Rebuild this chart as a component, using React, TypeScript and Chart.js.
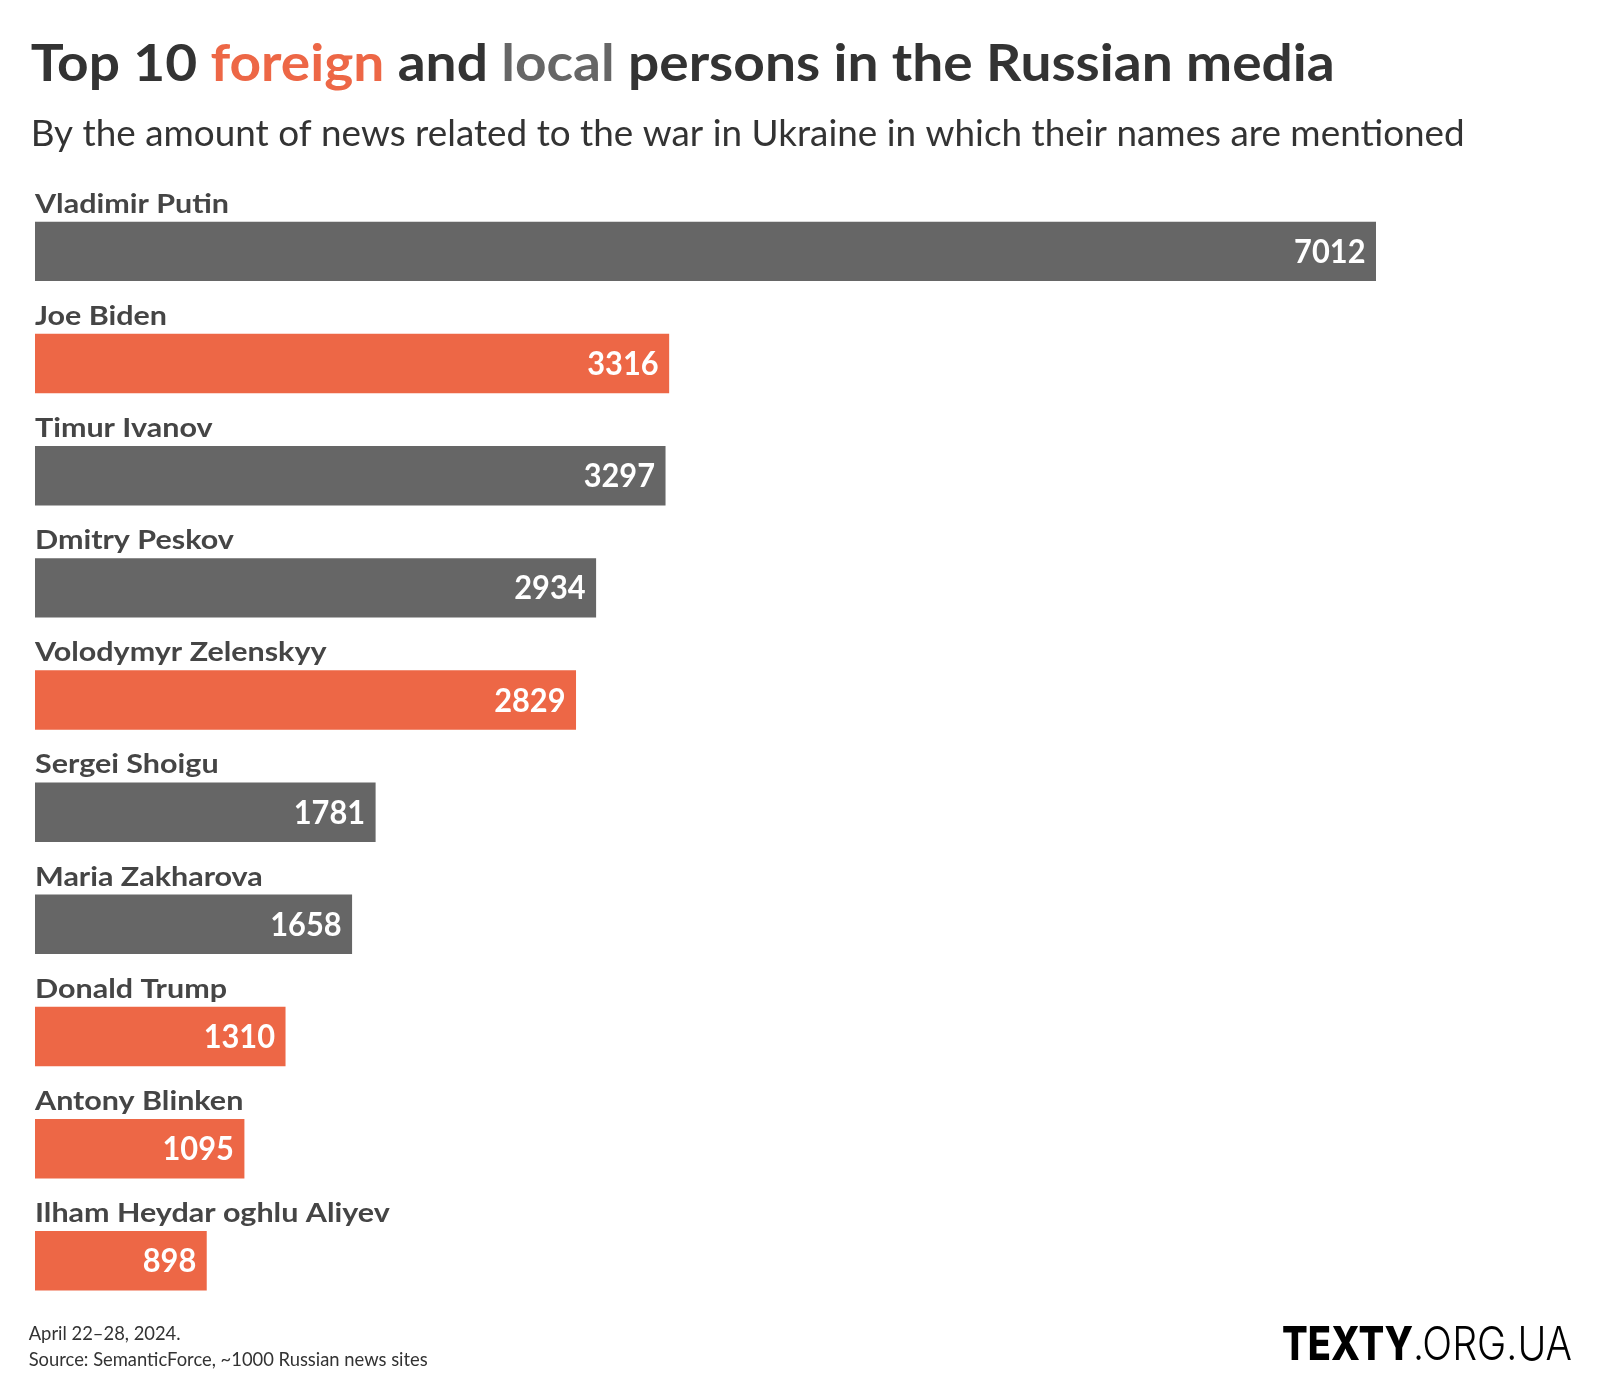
import React, { useEffect, useRef } from "react";
import { Chart, registerables } from "chart.js";

Chart.register(...registerables);

const names = [
  "Vladimir Putin",
  "Joe Biden",
  "Timur Ivanov",
  "Dmitry Peskov",
  "Volodymyr Zelenskyy",
  "Sergei Shoigu",
  "Maria Zakharova",
  "Donald Trump",
  "Antony Blinken",
  "Ilham Heydar oghlu Aliyev",
];
const values = [7012, 3316, 3297, 2934, 2829, 1781, 1658, 1310, 1095, 898];
const groups = ["local", "foreign", "local", "local", "foreign", "local", "local", "foreign", "foreign", "foreign"];

const titleParts: [string, string][] = [
  ["Top 10 ", "dark"],
  ["foreign", "foreign"],
  [" and ", "dark"],
  ["local", "local"],
  [" persons in the Russian media", "dark"],
];
const subtitle = "By the amount of news related to the war in Ukraine in which their names are mentioned";
const footerLines = ["April 22\u201328, 2024.", "Source: SemanticForce, ~1000 Russian news sites"];
const logoBold = "TEXTY";
const logoLight = ".ORG.UA";

const COLORS: Record<string, string> = {
  foreign: "#ED6746",
  local: "#666666",
  dark: "#333333",
};

const FONT = "Lato, 'Noto Sans', sans-serif";

function drawFit(
  ctx: CanvasRenderingContext2D,
  segs: [string, string][],
  x: number,
  y: number,
  font: string,
  target: number
) {
  ctx.font = font;
  const widths = segs.map(([t]) => ctx.measureText(t).width);
  const total = widths.reduce((a, b) => a + b, 0);
  const sx = target / total;
  ctx.save();
  ctx.translate(x, y);
  ctx.scale(sx, 1);
  ctx.textAlign = "left";
  ctx.textBaseline = "alphabetic";
  let cx = 0;
  segs.forEach(([t, c], i) => {
    ctx.fillStyle = c;
    ctx.fillText(t, cx, 0);
    cx += widths[i];
  });
  ctx.restore();
}

function drawScaled(
  ctx: CanvasRenderingContext2D,
  text: string,
  x: number,
  y: number,
  sx: number,
  align: "left" | "right",
  color: string
) {
  const w = ctx.measureText(text).width;
  ctx.save();
  ctx.translate(x, y);
  ctx.scale(sx, 1);
  ctx.textAlign = "left";
  ctx.textBaseline = "alphabetic";
  ctx.fillStyle = color;
  ctx.fillText(text, align === "right" ? -w : 0, 0);
  ctx.restore();
}

const decorPlugin = {
  id: "decor",
  afterDatasetsDraw(chart: any) {
    const ctx: CanvasRenderingContext2D = chart.ctx;
    const meta = chart.getDatasetMeta(0);
    // name labels
    ctx.font = `bold 27px ${FONT}`;
    const nameSx = 194 / ctx.measureText(names[0]).width;
    meta.data.forEach((bar: any, i: number) => {
      const p = bar.getProps(["x", "y", "base", "height"], true);
      const top = p.y - p.height / 2;
      ctx.font = `bold 27px ${FONT}`;
      drawScaled(ctx, names[i], p.base, top - 9, nameSx, "left", "#454545");
    });
    // value labels
    ctx.font = `bold 32px ${FONT}`;
    const valSx = 71.4 / ctx.measureText(String(values[0])).width;
    meta.data.forEach((bar: any, i: number) => {
      const p = bar.getProps(["x", "y", "base", "height"], true);
      ctx.font = `bold 32px ${FONT}`;
      drawScaled(ctx, String(values[i]), p.x - 10.5, p.y + 11.5, valSx, "right", "#ffffff");
    });
  },
  afterDraw(chart: any) {
    const ctx: CanvasRenderingContext2D = chart.ctx;
    drawFit(
      ctx,
      titleParts.map(([t, k]) => [t, COLORS[k]] as [string, string]),
      30.7,
      81,
      `bold 52px ${FONT}`,
      1304
    );
    drawFit(ctx, [[subtitle, "#333333"]], 30.7, 146, `36px ${FONT}`, 1434);
    ctx.font = `18.5px ${FONT}`;
    const fSx = 399 / ctx.measureText(footerLines[1]).width;
    drawScaled(ctx, footerLines[0], 28.7, 1340, fSx, "left", "#333333");
    drawScaled(ctx, footerLines[1], 28.7, 1366, fSx, "left", "#333333");
    // logo
    drawFit(ctx, [[logoBold, "#000000"]], 1282, 1360, `800 46px Inter, ${FONT}`, 131);
    drawFit(ctx, [[logoLight, "#000000"]], 1413, 1360, `300 46px Inter, ${FONT}`, 159);
  },
};

export default function App() {
  const ref = useRef<HTMLCanvasElement | null>(null);
  useEffect(() => {
    if (!ref.current) return;
    const chart = new Chart(ref.current, {
      type: "bar",
      data: {
        labels: names,
        datasets: [
          {
            data: values,
            backgroundColor: groups.map((g) => COLORS[g]),
            borderWidth: 0,
            barPercentage: 0.53,
            categoryPercentage: 1,
          },
        ],
      },
      options: {
        indexAxis: "y",
        responsive: false,
        devicePixelRatio: 1,
        animation: false,
        layout: { padding: { left: 35, right: 224, top: 195.3, bottom: 83.1 } },
        scales: {
          x: { display: false, min: 0, max: Math.max(...values) },
          y: { display: false },
        },
        plugins: { legend: { display: false }, tooltip: { enabled: false } },
      },
      plugins: [decorPlugin],
    } as any);
    return () => chart.destroy();
  }, []);
  return (
    <div style={{ position: "absolute", left: 0, top: 0, width: 1600, height: 1400, background: "#ffffff" }}>
      <canvas ref={ref} width={1600} height={1400} style={{ display: "block", width: 1600, height: 1400 }} />
    </div>
  );
}
